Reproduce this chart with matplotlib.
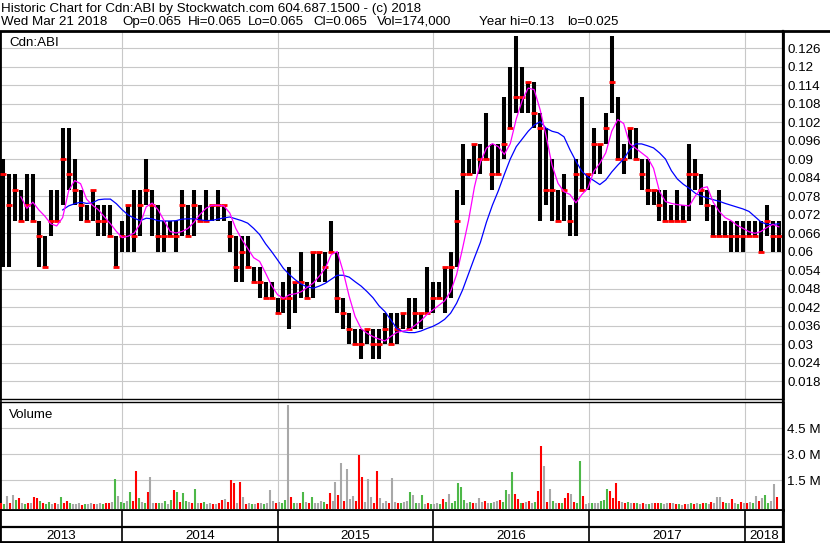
import matplotlib
matplotlib.use('Agg')
import matplotlib.pyplot as plt
import matplotlib.dates as mdates
from matplotlib.lines import Line2D
import numpy as np
import pandas as pd

plt.rcParams['font.family'] = ['Liberation Sans', 'DejaVu Sans']

# ---- price data, one bar per two weeks ----
bar_dates = pd.date_range('2013-03-28', periods=131, freq='14D')
highs = [.09, .085, .085, .08, .085, .085, .07, .065, .08, .08,
         .10, .10, .09, .08, .075, .08, .075, .075, .075, .065,
         .07, .075, .08, .08, .09, .08, .075, .07, .07, .07,
         .08, .075, .08, .075, .08, .075, .08, .075, .07, .065,
         .065, .065, .055, .055, .05, .05, .045, .05, .055, .05,
         .06, .05, .06, .06, .06, .07, .06, .045, .04, .035,
         .035, .035, .035, .035, .04, .04, .04, .04, .045, .045,
         .04, .055, .05, .05, .055, .06, .08, .095, .09, .095,
         .095, .105, .095, .095, .11, .12, .13, .12, .115, .115,
         .105, .10, .09, .08, .085, .075, .09, .11, .085, .10,
         .095, .105, .13, .11, .095, .10, .10, .09, .09, .08,
         .08, .08, .075, .08, .075, .095, .09, .085, .08, .075,
         .08, .07, .07, .07, .07, .07, .07, .07, .075, .07,
         .07]
lows = [.055, .055, .07, .07, .07, .07, .055, .055, .065, .07,
        .075, .08, .075, .07, .07, .07, .065, .065, .065, .055,
        .06, .06, .06, .065, .075, .065, .06, .06, .065, .06,
        .065, .065, .065, .07, .07, .07, .07, .07, .06, .05,
        .05, .055, .05, .045, .045, .045, .04, .04, .035, .04,
        .045, .045, .045, .05, .05, .06, .04, .035, .03, .03,
        .025, .03, .025, .025, .03, .03, .03, .035, .035, .035,
        .035, .04, .04, .045, .04, .045, .055, .075, .085, .085,
        .085, .09, .08, .085, .09, .10, .105, .105, .105, .10,
        .07, .075, .07, .07, .07, .065, .065, .08, .08, .085,
        .085, .095, .105, .09, .085, .09, .09, .08, .075, .075,
        .07, .07, .07, .07, .07, .07, .08, .075, .07, .065,
        .065, .065, .06, .06, .06, .065, .065, .06, .065, .06,
        .06]
closes = [.085, .075, .08, .07, .075, .07, .065, .055, .07, .07,
          .09, .085, .08, .075, .07, .08, .07, .07, .065, .055,
          .065, .075, .065, .075, .08, .075, .065, .065, .065, .065,
          .075, .065, .075, .07, .07, .075, .075, .075, .065, .055,
          .06, .055, .05, .05, .045, .045, .04, .045, .045, .05,
          .05, .045, .06, .06, .055, .06, .045, .04, .035, .03,
          .03, .035, .03, .03, .035, .03, .035, .04, .035, .04,
          .04, .04, .045, .045, .055, .055, .07, .085, .085, .095,
          .09, .09, .085, .085, .095, .10, .11, .11, .115, .105,
          .10, .08, .08, .07, .08, .07, .085, .08, .085, .095,
          .095, .10, .115, .09, .09, .10, .09, .085, .08, .08,
          .075, .07, .07, .07, .07, .085, .085, .08, .075, .065,
          .065, .065, .065, .065, .065, .065, .065, .06, .07, .065,
          .065]
nan = np.nan
ma_fast = [nan, nan, nan, .0777, .074, .076, .0735, .0715, .069, .0683,
           .071, .0797, .083, .082, .077, .075, .0735, .0712, .069, .0665,
           .0645, .065, .066, .069, .0745, .0757, .0735, .070, .0665, .066,
           .0665, .0675, .0695, .072, .074, .075, .075, .0748, .0725, .0675,
           .064, .061, .058, .0568, .053, .049, .046, .0448, .046, .0463,
           .047, .0484, .0498, .052, .0546, .059, .060, .0535, .0455, .0389,
           .035, .0335, .0324, .0316, .031, .0325, .0338, .0342, .0346, .036,
           .0375, .0395, .041, .0425, .044, .047, .0525, .061, .070, .081,
           .089, .0935, .095, .094, .0915, .095, .103, .109, .113, .1125,
           .106, .0975, .088, .0821, .0794, .0785, .0758, .0785, .0805, .086,
           .0886, .092, .099, .1028, .1015, .095, .0935, .092, .0905, .087,
           .0795, .0762, .0756, .0752, .075, .0748, .078, .0805, .081, .076,
           .073, .071, .070, .0685, .0675, .0664, .0659, .0665, .0678, .0688,
           .068]
ma_slow = [nan, nan, nan, nan, nan, nan, nan, nan, nan, nan,
           .0735, .0748, .0755, .076, .0756, .0758, .0768, .077, .077, .0755,
           .0735, .0718, .0708, .070, .0708, .0706, .070, .0699, .0699, .070,
           .0705, .0706, .0706, .0703, .070, .0701, .0705, .0709, .0712, .0706,
           .070, .0692, .0675, .0655, .0625, .060, .0573, .0545, .0525, .0508,
           .0494, .0485, .0481, .0488, .0497, .051, .0523, .0523, .0517, .0502,
           .0488, .047, .045, .0424, .0405, .0378, .035, .034, .0337, .0337,
           .0342, .035, .0357, .0367, .038, .040, .0432, .0475, .0528, .058,
           .063, .0695, .075, .0797, .085, .090, .094, .0965, .099, .101,
           .1021, .100, .099, .0985, .0972, .093, .0893, .086, .0842, .083,
           .0817, .0832, .0858, .088, .090, .093, .0949, .0949, .0943, .0936,
           .092, .090, .0862, .0835, .0818, .0805, .0789, .078, .0774, .0768,
           .0763, .0756, .075, .0744, .0738, .073, .0713, .0696, .0688, .0688,
           .069]

# ---- volume data, one bar per week (millions) ----
vol_dates = pd.date_range('2013-03-24', periods=261, freq='7D')
volumes = [.2, .12, .58, .15, .63, .35, .44, .15, .1, .18,
           .15, .5, .45, .3, .15, .12, .25, .12, .15, .1,
           .5, .15, .3, .18, .1, .12, .15, .08, .1, .12,
           .15, .1, .12, .18, .1, .15, .2, .25, 1.55, .58,
           .25, .2, .3, .8, .3, 2.0, .45, .25, .2, .83,
           1.67, .15, .2, .15, .2, .3, .1, .35, .92, .83,
           .25, .73, .3, .25, .2, 1.0, .15, .2, .25, .1,
           .15, .12, .1, .2, .35, .4, .25, 1.5, 1.35, .2,
           1.37, .5, .1, .15, .12, .1, .2, .15, .1, .2,
           .92, .3, .15, .25, .2, .35, 5.83, .54, .2, .15,
           .2, .79, .25, .15, .54, .15, .2, .3, .25, .1,
           .73, .3, 1.37, .63, 2.46, .3, 2.13, .4, .58, .3,
           2.94, 1.69, .25, 1.56, .5, .2, 2.02, .45, .2, .3,
           .2, 1.63, .25, .15, .2, .25, .3, .79, .63, .2,
           .15, .63, .1, .15, .1, .12, .2, .1, .4, .25,
           .69, .2, .3, 1.3, 1.1, .35, .2, .25, .15, .2,
           .45, .25, .3, .2, .15, .25, .3, .35, .25, .92,
           .67, 1.96, .69, .4, .2, .2, .25, .3, .2, .25,
           .86, 3.46, 2.33, .25, .98, .3, .2, .15, .2, .44,
           .73, .69, .25, .15, 2.6, .6, .1, .15, .2, .15,
           .2, .3, .35, .98, .88, .48, 1.33, .3, .25, .2,
           .25, .2, .15, .2, .1, .15, .1, .12, .2, .15,
           .15, .2, .1, .15, .2, .2, .12, .1, .08, .12,
           .1, .15, .12, .2, .1, .15, .2, .1, .25, .2,
           .52, .52, .25, .2, .15, .38, .2, .1, .25, .2,
           .15, .25, .2, .58, .3, .45, .63, .2, .3, 1.25,
           .52]
vol_colors = ("rgkrkgrkgr" "krrgrggkrk" "grrgkkkrgk" "krkkgrrkgk"
              "ggkgrrgkgr" "kkrgkgkgrg" "rggkrgkrgk" "krkrrkrrrk"
              "rkrkgkrkgk" "kkrkggkrgk" "rgkrgkkkgr" "rkkrkrkkkr"
              "rrkkkrrkkk" "rkkrgkkgkg" "kgkrgkkgrg" "kgggggkgrk"
              "kkrkgkkrgg" "kgrrgrkrkg" "rrkrkgkrgr" "rkrggrkkgk"
              "kgggrrrrkr" "gkrgkrkgkr" "rgkkrkrgkr" "kgrkgrgkrk"
              "kkrgkrkgrk" "rkgkrkggkk" "r")
color_map = {'r': '#ff0000', 'g': '#4db848', 'k': '#a8a8a8'}

years = pd.to_datetime(['2014-01-01', '2015-01-01', '2016-01-01',
                        '2017-01-01', '2018-01-01'])
year_labels = ['2013', '2014', '2015', '2016', '2017', '2018']
price_ticks = [0.018, 0.024, 0.03, 0.036, 0.042, 0.048, 0.054, 0.06, 0.066,
               0.072, 0.078, 0.084, 0.09, 0.096, 0.102, 0.108, 0.114, 0.12, 0.126]
vol_ticks = [1.5, 3.0, 4.5]

W, H = 830, 543
FS = 9.6
fig = plt.figure(figsize=(W / 100, H / 100), dpi=100)
fig.patch.set_facecolor('white')


def fx(px):
    return px / W


def fy(py):
    return 1 - py / H


x0 = mdates.date2num(pd.Timestamp('2013-03-21'))
x1 = x0 + 783 / (155.6 / 365)
grid_c = '#c8c8c8'

ax = fig.add_axes([0, fy(399), fx(783), fy(32) - fy(399)])
vax = fig.add_axes([0, fy(509.5), fx(783), fy(402) - fy(509.5)])
sax = fig.add_axes([0, fy(542), fx(783), fy(510.5) - fy(542)])

for a in (ax, vax, sax):
    a.set_xlim(x0, x1)
    a.set_xticks(mdates.date2num(years))
    a.tick_params(axis='x', length=0, labelbottom=False)
    for s in a.spines.values():
        s.set_color('black')
        s.set_linewidth(1)
    a.spines['left'].set_linewidth(2)
    a.spines['right'].set_linewidth(2)

# price panel
ax.set_ylim(0.01217, 0.13119)
ax.set_yticks(price_ticks)
ax.set_yticklabels([f'{t:.3f}'.rstrip('0') for t in price_ticks])
ax.yaxis.tick_right()
ax.tick_params(axis='y', length=0, pad=3, labelsize=FS)
ax.grid(True, color=grid_c, lw=0.8)
ax.set_axisbelow(True)
ax.spines['top'].set_visible(False)

xd = mdates.date2num(bar_dates)
ax.vlines(xd, lows, highs, color='black', lw=2.9, zorder=3)
ax.plot(xd, closes, ls='none', marker='_', ms=4.5, mew=2, color='#ff0000', zorder=4)
ax.plot(xd, ma_slow, color='#0000ff', lw=0.9, zorder=5)
ax.plot(xd, ma_fast, color='#ff00ff', lw=0.9, zorder=6)
fig.text(fx(9), fy(45.5), 'Cdn:ABI', fontsize=FS, va='baseline')

# volume panel
vax.set_ylim(-0.2, 6.0)
vax.set_yticks(vol_ticks)
vax.set_yticklabels([f'{t:.1f} M' for t in vol_ticks])
vax.yaxis.tick_right()
vax.tick_params(axis='y', length=0, pad=3, labelsize=FS)
vax.grid(True, color=grid_c, lw=0.8)
vax.set_axisbelow(True)
vax.spines['bottom'].set_linewidth(2)
vd = mdates.date2num(vol_dates)
vax.vlines(vd, -0.2, volumes, colors=[color_map[c] for c in vol_colors],
           lw=1.5, zorder=3)
fig.text(fx(9), fy(417.5), 'Volume', fontsize=FS, va='baseline')

# year strip
sax.set_ylim(0, 1)
sax.set_yticks([])
sax.spines['top'].set_visible(False)
sax.spines['bottom'].set_linewidth(2)
sax.axhline(0.48, color='black', lw=1.6)
sax.vlines(mdates.date2num(years), 0, 1, color='black', lw=1.2)
edges = [x0] + list(mdates.date2num(years)) + [x1]
for i, lab in enumerate(year_labels):
    sax.text((edges[i] + edges[i + 1]) / 2, 0.2, lab, ha='center',
             va='center', fontsize=FS)

# frame lines
fig.add_artist(Line2D([0, 1], [fy(30.8), fy(30.8)], color='black', lw=2))
fig.add_artist(Line2D([fx(783), fx(783)], [fy(31), 0], color='black', lw=1.6))

# header text
fig.text(fx(1), fy(11.7), 'Historic Chart for Cdn:ABI by Stockwatch.com 604.687.1500 - (c) 2018',
         fontsize=FS, va='baseline')
header2 = [(1, 'Wed Mar 21 2018'), (122, 'Op=0.065'), (188, 'Hi=0.065'),
           (248, 'Lo=0.065'), (313, 'Cl=0.065'), (377, 'Vol=174,000'),
           (479, 'Year hi=0.13'), (567, 'lo=0.025')]
for px, s in header2:
    fig.text(fx(px), fy(25), s, fontsize=FS, va='baseline')

fig.savefig('out.png', dpi=100)
